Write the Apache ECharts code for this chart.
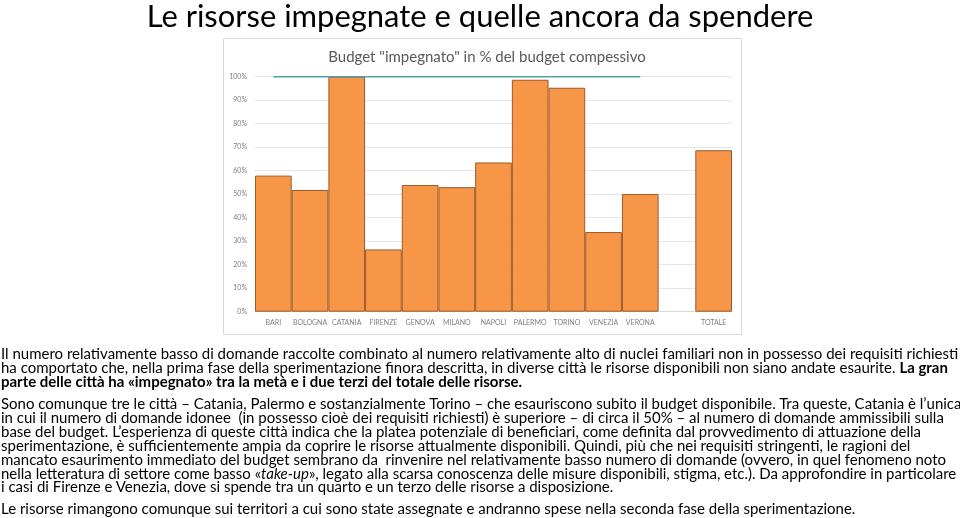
<!DOCTYPE html>
<html><head><meta charset="utf-8">
<script src="https://cdn.jsdelivr.net/npm/echarts@6/dist/echarts.min.js"></script>
<style>
html,body{margin:0;padding:0;background:#fff;}
#wrap{position:relative;width:960px;height:518px;overflow:hidden;}
#chart{position:absolute;left:0;top:0;width:960px;height:518px;}
.t{position:absolute;left:1px;white-space:nowrap;font-family:Lato,"Open Sans",sans-serif;color:#000;line-height:14px;}
#title{position:absolute;top:-4px;left:0;width:960px;text-align:center;white-space:nowrap;font-family:Lato,"Open Sans",sans-serif;font-size:30px;color:#000;}
</style></head>
<body><div id="wrap">
<div id="chart"></div>
<div id="title"><span id="titlespan">Le risorse impegnate e quelle ancora da spendere</span></div>
<div class="t" style="top:346px">Il numero relativamente basso di domande raccolte combinato al numero relativamente alto di nuclei familiari non in possesso dei requisiti richiesti</div>
<div class="t" style="top:360px">ha comportato che, nella prima fase della sperimentazione finora descritta, in diverse città le risorse disponibili non siano andate esaurite. <b>La gran</b></div>
<div class="t" style="top:374px"><b>parte delle città ha «impegnato» tra la metà e i due terzi del totale delle risorse.</b></div>
<div class="t" style="top:396px">Sono comunque tre le città – Catania, Palermo e sostanzialmente Torino – che esauriscono subito il budget disponibile. Tra queste, Catania è l’unica</div>
<div class="t" style="top:410px">in cui il numero di domande idonee&nbsp; (in possesso cioè dei requisiti richiesti) è superiore – di circa il 50% – al numero di domande ammissibili sulla</div>
<div class="t" style="top:424px">base del budget. L’esperienza di queste città indica che la platea potenziale di beneficiari, come definita dal provvedimento di attuazione della</div>
<div class="t" style="top:438px">sperimentazione, è sufficientemente ampia da coprire le risorse attualmente disponibili. Quindi, più che nei requisiti stringenti, le ragioni del</div>
<div class="t" style="top:452px">mancato esaurimento immediato del budget sembrano da&nbsp; rinvenire nel relativamente basso numero di domande (ovvero, in quel fenomeno noto</div>
<div class="t" id="ref" style="top:466px">nella letteratura di settore come basso «<i>take-up</i>», legato alla scarsa conoscenza delle misure disponibili, stigma, etc.). Da approfondire in particolare</div>
<div class="t" style="top:479px">i casi di Firenze e Venezia, dove si spende tra un quarto e un terzo delle risorse a disposizione.</div>
<div class="t" style="top:501px">Le risorse rimangono comunque sui territori a cui sono state assegnate e andranno spese nella seconda fase della sperimentazione.</div>
</div>
<script>
// ---- data ----
const categories = ['BARI','BOLOGNA','CATANIA','FIRENZE','GENOVA','MILANO','NAPOLI','PALERMO','TORINO','VENEZIA','VERONA','','TOTALE'];
const budgetImpegnato = [57.9, 51.8, 100, 26.5, 53.9, 53.0, 63.5, 98.7, 95.3, 33.9, 50.1, null, 68.7];
const riferimento = [100,100,100,100,100,100,100,100,100,100,100,null,null];
const yTicks = [0,10,20,30,40,50,60,70,80,90,100];
const chartTitle = 'Budget "impegnato" in % del budget compessivo';

// fit body text size
(function(){
  const ref = document.getElementById('ref');
  let fs = 14; document.querySelectorAll('.t').forEach(e=>e.style.fontSize=fs+'px');
  const w = ref.getBoundingClientRect().width;
  fs = fs * 956 / w;
  document.querySelectorAll('.t').forEach(e=>e.style.fontSize=fs+'px');
  const ts = document.getElementById('titlespan');
  const tw = ts.getBoundingClientRect().width;
  document.getElementById('title').style.fontSize = (30*667/tw)+'px';
})();

const chart = echarts.init(document.getElementById('chart'), null, {renderer:'canvas'});
chart.setOption({
  animation:false,
  backgroundColor:'transparent',
  title:{text:chartTitle,left:482,textAlign:'center',top:45,textStyle:{fontFamily:'Lato, "Open Sans", sans-serif',fontSize:15,fontWeight:'normal',color:'#595959'}},
  graphic:[{type:'rect',shape:{x:223.5,y:38.5,width:518,height:296},style:{fill:'none',stroke:'#d9d9d9',lineWidth:1},z:-1}],
  grid:{left:255,right:228,top:76.7,bottom:206.3},
  xAxis:{type:'category',data:categories,axisLine:{show:true,lineStyle:{color:'#d9d9d9'}},axisTick:{show:false},
    axisLabel:{interval:0,color:'#7f7f7f',fontSize:7,fontFamily:'Lato, sans-serif',margin:8}},
  yAxis:{type:'value',min:0,max:100,interval:10,
    axisLabel:{formatter:v=>v+'%',color:'#7f7f7f',fontSize:7,fontFamily:'Lato, sans-serif',margin:8},
    splitLine:{lineStyle:{color:'#e6e6e6'}},axisLine:{show:false},axisTick:{show:false}},
  series:[
    {type:'bar',data:budgetImpegnato,barCategoryGap:'0%',itemStyle:{color:'#F79646',borderColor:'#9c5a2c',borderWidth:1}},
    {type:'line',data:riferimento,symbol:'none',lineStyle:{color:'#4f9fae',width:1.5},z:5}
  ]
});
</script>
</body></html>
